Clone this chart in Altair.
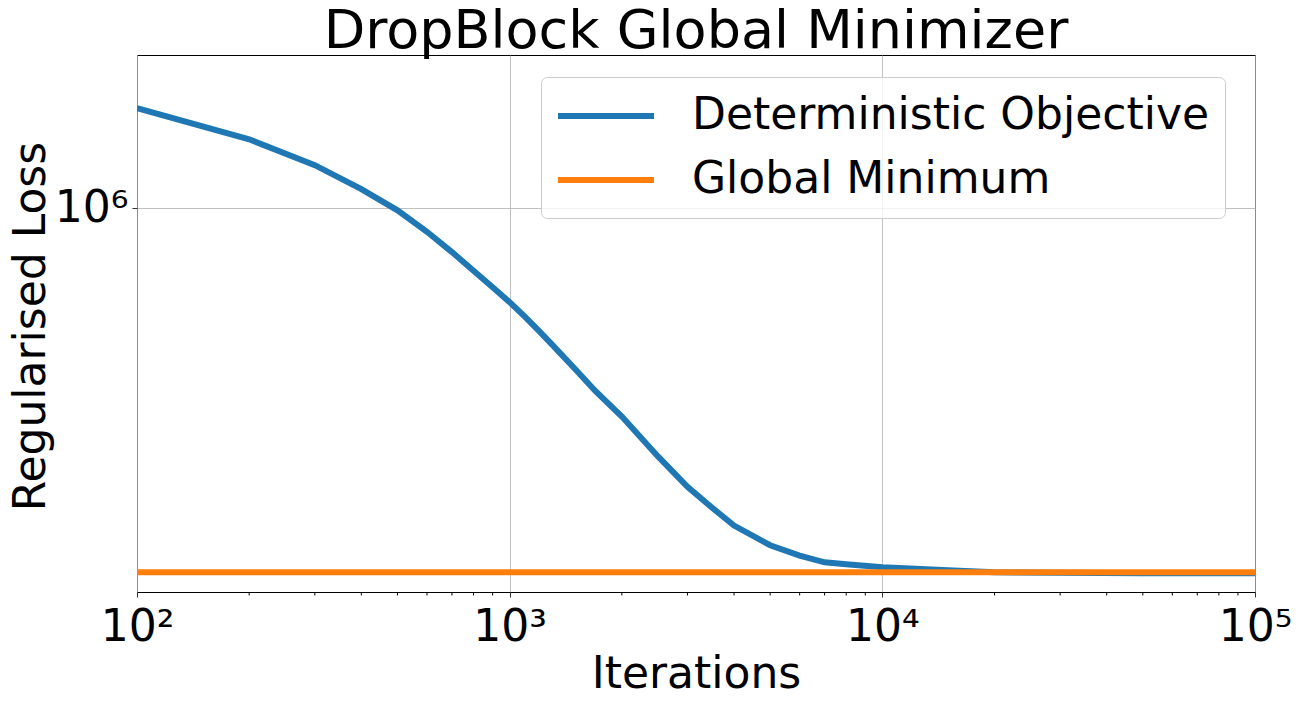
import altair as alt
import pandas as pd

# ---- data ----
iterations = [100, 200, 300, 400, 500, 600, 700, 800, 900, 1000, 1100, 1200, 1300,
              1500, 1700, 2000, 2500, 3000, 3500, 4000, 5000, 6000, 7000, 8000,
              10000, 15000, 20000, 30000, 50000, 100000]
objective = [1.392e6, 1.256e6, 1.153e6, 1.065e6, 9.93e5, 9.25e5, 8.65e5, 8.13e5,
             7.70e5, 7.33e5, 6.98e5, 6.66e5, 6.37e5, 5.87e5, 5.46e5, 5.02e5,
             4.40e5, 3.98e5, 3.71e5, 3.50e5, 3.28e5, 3.17e5, 3.10e5, 3.08e5,
             3.05e5, 3.02e5, 3.00e5, 2.995e5, 2.99e5, 2.99e5]
min_iterations = [100, 100000]
global_min = [3.0e5, 3.0e5]

series_names = ["Deterministic Objective", "Global Minimum"]
series_colors = ["#1f77b4", "#ff7f0e"]

title_text = ["DropBlock Global Minimizer"]

x_tick_values = [100, 1000, 10000, 100000]
x_tick_labels = ["10²", "10³", "10⁴", "10⁵"]
x_minor_ticks = [200, 300, 400, 500, 600, 700, 800, 900,
                 2000, 3000, 4000, 5000, 6000, 7000, 8000, 9000,
                 20000, 30000, 40000, 50000, 60000, 70000, 80000, 90000]
y_tick_values = [1e6]
y_tick_labels = ["10⁶"]

FONT = "DejaVu Sans"
W, H = 1118, 537


def label_expr(values, labels):
    expr = "''"
    for v, l in reversed(list(zip(values, labels))):
        expr = f"datum.value == {v} ? '{l}' : ({expr})"
    return expr


df_obj = pd.DataFrame({"it": iterations, "loss": objective, "series": series_names[0]})
df_min = pd.DataFrame({"it": min_iterations, "loss": global_min, "series": series_names[1]})
df_minor = pd.DataFrame({"it": x_minor_ticks})
df_title = pd.DataFrame({"t": title_text})

xscale = alt.Scale(type="log", domain=[100, 100000], nice=False)
yscale = alt.Scale(type="log", domain=[2.81e5, 1.66e6], nice=False)
cscale = alt.Scale(domain=series_names, range=series_colors)

x_axis = alt.Axis(values=x_tick_values, labelExpr=label_expr(x_tick_values, x_tick_labels),
                  title="Iterations", grid=True, domain=False, tickSize=5,
                  labelPadding=43, labelBaseline="alphabetic", labelFlush=False,
                  labelOverlap=False,
                  titleY=95, titleBaseline="alphabetic")
y_axis = alt.Axis(values=y_tick_values, labelExpr=label_expr(y_tick_values, y_tick_labels),
                  title="Regularised Loss", grid=True, domain=False, tickSize=5,
                  labelPadding=4, labelBaseline="middle", labelFlush=False,
                  titleX=-93, titleY=271, titleAngle=270, titleAlign="center",
                  titleBaseline="alphabetic")

# wide, flat custom line symbol (unit square scaled by sqrt(size)/2)
legend = alt.Legend(title=None, orient="none", legendX=404, legendY=22,
                    symbolType="M-1.1,0H3.7", symbolSize=1600, symbolStrokeWidth=6,
                    symbolFillColor="transparent",
                    labelFontSize=44, labelFont=FONT, labelColor="black",
                    labelOffset=89, labelLimit=2000, rowPadding=19, padding=16,
                    strokeColor="#cccccc", fillColor="rgba(255,255,255,0.8)",
                    cornerRadius=6)

obj = alt.Chart(df_obj).mark_line(strokeWidth=6, clip=True).encode(
    x=alt.X("it:Q", scale=xscale, axis=x_axis),
    y=alt.Y("loss:Q", scale=yscale, axis=y_axis),
    color=alt.Color("series:N", scale=cscale, legend=legend),
)
gmin = alt.Chart(df_min).mark_line(strokeWidth=6, clip=True).encode(
    x=alt.X("it:Q", scale=xscale),
    y=alt.Y("loss:Q", scale=yscale),
    color=alt.Color("series:N", scale=cscale, legend=legend),
)
minor = alt.Chart(df_minor).mark_rule(color="black", strokeWidth=1).encode(
    x=alt.X("it:Q", scale=xscale),
    y=alt.value(H),
    y2=alt.value(H + 3.5),
)
title = alt.Chart(df_title).mark_text(font=FONT, fontSize=54, color="black",
                                      align="center", baseline="alphabetic").encode(
    text="t:N",
    x=alt.value(W / 2),
    y=alt.value(-7),
)

chart = alt.layer(obj, gmin, minor, title).properties(
    width=W, height=H,
    autosize=alt.AutoSizeParams(type="none"),
    padding={"left": 129, "top": 47, "right": 37, "bottom": 100},
).configure_view(
    stroke="black", strokeWidth=1
).configure_axis(
    labelFont=FONT, labelFontSize=44, labelColor="black",
    titleFont=FONT, titleFontSize=44, titleColor="black", titleFontWeight="normal",
    gridColor="#b0b0b0", gridWidth=0.8, tickColor="black", tickWidth=0.8,
)

chart.save("out.html", embed_options={"renderer": "svg", "actions": False})
